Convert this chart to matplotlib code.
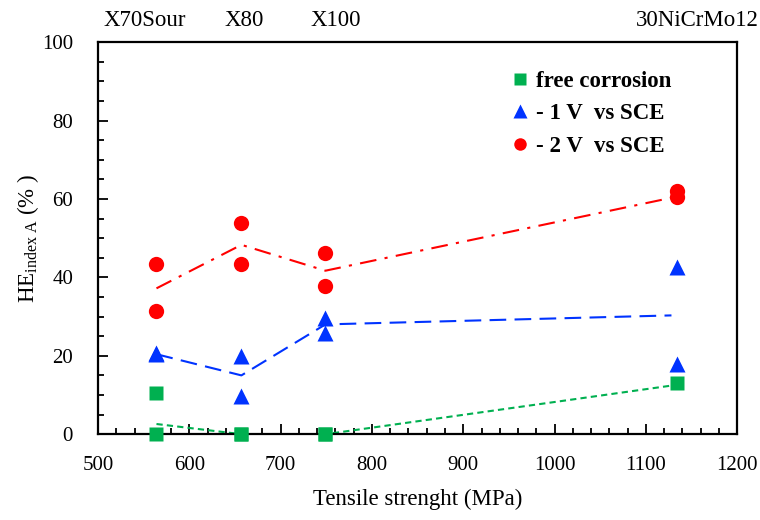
import matplotlib
matplotlib.use("Agg")
import matplotlib.pyplot as plt
from matplotlib.lines import Line2D
from matplotlib.ticker import MultipleLocator

plt.rcParams['font.family'] = ['Liberation Serif', 'DejaVu Serif']
plt.rcParams['mathtext.fontset'] = 'custom'
plt.rcParams['mathtext.rm'] = 'Liberation Serif'
plt.rcParams['mathtext.it'] = 'Liberation Serif'

# Steel grades and their tensile strength (MPa)
grades = ["X70Sour", "X80", "X100", "30NiCrMo12"]
grade_label_x = [551, 660, 760, 1156]
strength = [564, 657, 749, 1134]

# Individual test results, HE index A (%)
free_x = [564, 564, 657, 657, 749, 749, 1134]
free_y = [10.5, 0.0, 0.0, 0.0, 0.0, 0.0, 13.0]
v1_x = [564, 564, 657, 657, 749, 749, 1134, 1134]
v1_y = [20.5, 20.8, 20.0, 9.7, 29.6, 25.8, 42.6, 17.9]
v2_x = [564, 564, 657, 657, 749, 749, 1134, 1134]
v2_y = [43.4, 31.5, 53.8, 43.4, 46.2, 37.8, 62.0, 60.5]

# Trend lines (average values)
trend_x = [564, 657, 749, 1128]
free_trend = [2.6, 0.0, 0.0, 12.4]
v1_trend = [20.4, 15.0, 28.0, 30.3]
v2_trend = [37.2, 48.3, 41.7, 60.3]

green = "#00b050"
blue = "#0033ff"
red = "#ff0000"

fig = plt.figure(figsize=(7.6, 5.2), dpi=100)
ax = fig.add_axes([0.129, 0.165, 0.841, 0.754])

ax.plot(trend_x, free_trend, color=green, lw=1.5, ls=(0, (3, 2)))
ax.plot(trend_x, v1_trend, color=blue, lw=1.5, ls=(0, (8, 4)))
ax.plot(trend_x, v2_trend, color=red, lw=1.5, ls=(0, (8, 4, 1.5, 4)))

ax.plot(free_x, free_y, 's', color=green, ms=9.5, mec='none', clip_on=False, zorder=5)
ax.plot(v1_x, v1_y, '^', color=blue, ms=11.5, mec='none', clip_on=False, zorder=5)
ax.plot(v2_x, v2_y, 'o', color=red, ms=11, mec='none', clip_on=False, zorder=5)

ax.set_xlim(500, 1200)
ax.set_ylim(0, 100)
ax.xaxis.set_major_locator(MultipleLocator(100))
ax.xaxis.set_minor_locator(MultipleLocator(20))
ax.yaxis.set_major_locator(MultipleLocator(20))
ax.yaxis.set_minor_locator(MultipleLocator(5))
ax.tick_params(which='both', direction='in', top=False, right=False,
               labelsize=15, width=1.3)
ax.tick_params(axis='x', which='both', pad=16)
ax.tick_params(axis='y', which='both', pad=18)
ax.tick_params(which='major', length=7)
ax.tick_params(which='minor', length=4.5)
for s in ax.spines.values():
    s.set_linewidth(1.6)

ax.set_xlabel("Tensile strenght (MPa)", fontsize=16.5, labelpad=10)
ax.set_ylabel(r"HE$_{\mathrm{index\ A}}$ (% )", fontsize=16.5, labelpad=1)

for name, gx in zip(grades, grade_label_x):
    ax.text(gx, 1.055, name, transform=ax.get_xaxis_transform(),
            ha='center', va='center', fontsize=16.5, clip_on=False)

handles = [
    Line2D([], [], marker='s', color=green, ls='none', ms=8, mec='none'),
    Line2D([], [], marker='^', color=blue, ls='none', ms=10, mec='none'),
    Line2D([], [], marker='o', color=red, ls='none', ms=9, mec='none'),
]
labels = ["free corrosion", "- 1 V  vs SCE", "- 2 V  vs SCE"]
ax.legend(handles, labels, loc='upper left', bbox_to_anchor=(0.61, 0.98),
          frameon=False, prop={'weight': 'bold', 'size': 16.5},
          handletextpad=0.2, labelspacing=0.5, handlelength=1.0)

fig.savefig("out.png", dpi=100)
